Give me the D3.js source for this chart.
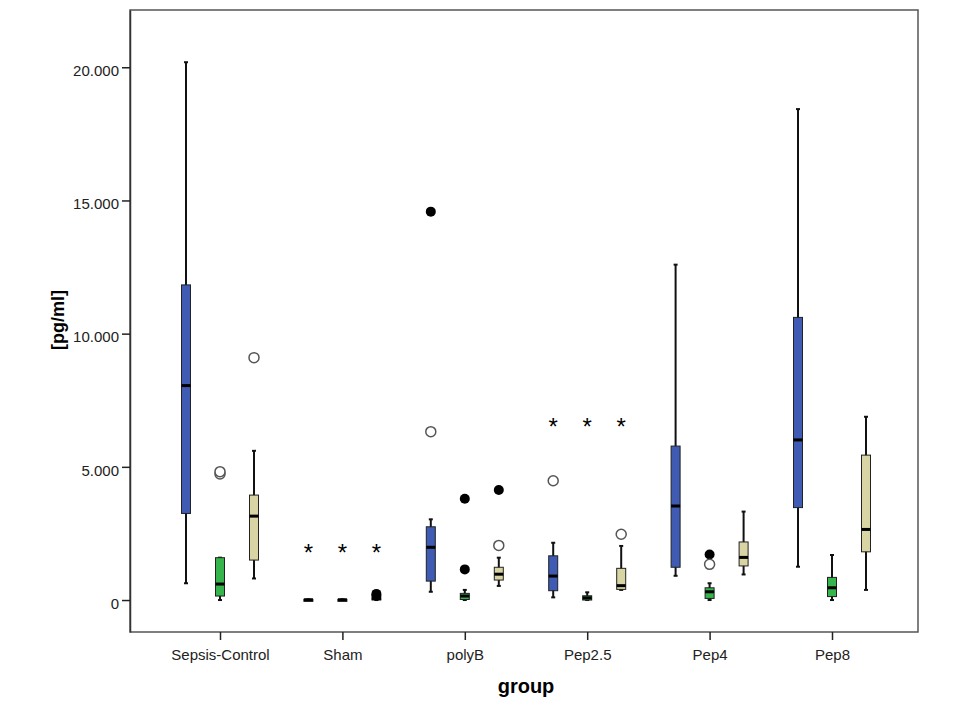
<!DOCTYPE html>
<html>
<head>
<meta charset="utf-8">
<script src="https://cdn.jsdelivr.net/npm/d3@7"></script>
<style>
  body { margin: 0; background: #fff; }
  text { font-family: Arial, "Liberation Sans", sans-serif; }
</style>
</head>
<body>
<div id="canvas"></div>
<script>
const width = 960;
const height = 720;

// categories on the x axis
const groups = ['Sepsis-Control', 'Sham', 'polyB', 'Pep2.5', 'Pep4', 'Pep8'];
const series = ['A', 'B', 'C'];
const colors = ['#3f5bb3', '#35b54b', '#d9d4a3'];

// [whisker low, Q1, median, Q3, whisker high] for each group
const boxA = [
  [630, 3250, 8050, 11830, 20190],
  [0, 0, 10, 25, 25],
  [310, 710, 1980, 2750, 3030],
  [100, 350, 900, 1660, 2150],
  [910, 1230, 3530, 5780, 12590],
  [1250, 3470, 6010, 10610, 18430]
];
const boxB = [
  [0, 150, 600, 1590, 1590],
  [0, 0, 10, 25, 25],
  [0, 20, 150, 250, 380],
  [0, 0, 80, 160, 290],
  [0, 60, 310, 460, 630],
  [0, 130, 460, 850, 1690]
];
const boxC = [
  [810, 1500, 3150, 3940, 5600],
  [0, 20, 50, 80, 110],
  [530, 750, 970, 1230, 1590],
  [380, 400, 540, 1190, 2030],
  [960, 1280, 1600, 2180, 3320],
  [380, 1810, 2650, 5440, 6880]
];
const boxes = [boxA, boxB, boxC];

// outliers: group, series index, value, kind (o = open circle, f = filled, x = extreme)
const outliers = [
  ['Sepsis-Control', 1, 4730, 'o'],
  ['Sepsis-Control', 1, 4820, 'o'],
  ['Sepsis-Control', 2, 9100, 'o'],
  ['Sham', 0, 1940, 'x'],
  ['Sham', 1, 1940, 'x'],
  ['Sham', 2, 1940, 'x'],
  ['Sham', 2, 160, 'f'],
  ['Sham', 2, 230, 'f'],
  ['polyB', 0, 14580, 'f'],
  ['polyB', 0, 6320, 'o'],
  ['polyB', 1, 3800, 'f'],
  ['polyB', 1, 1150, 'f'],
  ['polyB', 2, 4130, 'f'],
  ['polyB', 2, 2050, 'o'],
  ['Pep2.5', 0, 6690, 'x'],
  ['Pep2.5', 1, 6690, 'x'],
  ['Pep2.5', 2, 6690, 'x'],
  ['Pep2.5', 0, 4480, 'o'],
  ['Pep2.5', 2, 2470, 'o'],
  ['Pep4', 1, 1710, 'f'],
  ['Pep4', 1, 1340, 'o']
];

const yTicks = [0, 5000, 10000, 15000, 20000];

const plot = { left: 130, top: 10, right: 918, bottom: 632 };

const svg = d3.select('#canvas').append('svg')
  .attr('width', width)
  .attr('height', height);

const xScale = d3.scalePoint().domain(groups).range([220, 832]);
const offset = d3.scalePoint().domain(d3.range(series.length)).range([-34, 34]);
const yScale = d3.scaleLinear().domain([-1200, 22150]).range([plot.bottom, plot.top]);

const locale = d3.formatLocale({ decimal: ',', thousands: '.', grouping: [3], currency: ['', ''] });
const fmt = locale.format(',d');

// frame
svg.append('rect')
  .attr('x', plot.left).attr('y', plot.top)
  .attr('width', plot.right - plot.left).attr('height', plot.bottom - plot.top)
  .attr('fill', 'none').attr('stroke', '#555').attr('stroke-width', 1.5);

const yAxis = svg.append('g')
  .attr('transform', `translate(${plot.left},0)`)
  .call(d3.axisLeft(yScale).tickValues(yTicks).tickFormat(fmt).tickSize(8).tickSizeOuter(0).tickPadding(3));
yAxis.select('.domain').attr('stroke', '#333').attr('stroke-width', 1.5);
yAxis.selectAll('.tick line').attr('stroke', '#222').attr('stroke-width', 1.5);
yAxis.selectAll('.tick text').attr('font-size', 15).attr('fill', '#222').attr('dy', '0.55em')
  .style('font-family', 'Arial, "Liberation Sans", sans-serif');

const xAxis = svg.append('g')
  .attr('transform', `translate(0,${plot.bottom})`)
  .call(d3.axisBottom(xScale).tickSize(8).tickSizeOuter(0).tickPadding(9));
xAxis.select('.domain').remove();
xAxis.selectAll('.tick line').attr('stroke', '#222').attr('stroke-width', 1.5);
xAxis.selectAll('.tick text').attr('font-size', 15).attr('fill', '#222')
  .style('font-family', 'Arial, "Liberation Sans", sans-serif');

// axis titles
svg.append('text')
  .attr('transform', 'translate(64,320) rotate(-90)')
  .attr('text-anchor', 'middle')
  .attr('font-size', 18).attr('font-weight', 'bold')
  .text('[pg/ml]');

svg.append('text')
  .attr('x', 526).attr('y', 693)
  .attr('text-anchor', 'middle')
  .attr('font-size', 20).attr('font-weight', 'bold')
  .text('group');

// boxes
const boxW = 9;
const capW = 4;
const boxData = [];
boxes.forEach((arr, s) => {
  arr.forEach((d, i) => boxData.push({ group: groups[i], s: s, lo: d[0], q1: d[1], med: d[2], q3: d[3], hi: d[4] }));
});

const g = svg.append('g');
const bx = g.selectAll('g.box').data(boxData).enter().append('g')
  .attr('transform', d => `translate(${xScale(d.group) + offset(d.s)},0)`);

bx.append('line')
  .attr('x1', 0).attr('x2', 0)
  .attr('y1', d => yScale(d.lo)).attr('y2', d => yScale(d.hi))
  .attr('stroke', '#111').attr('stroke-width', 2);
bx.append('line')
  .attr('x1', -capW / 2).attr('x2', capW / 2)
  .attr('y1', d => yScale(d.lo)).attr('y2', d => yScale(d.lo))
  .attr('stroke', '#111').attr('stroke-width', 2);
bx.append('line')
  .attr('x1', -capW / 2).attr('x2', capW / 2)
  .attr('y1', d => yScale(d.hi)).attr('y2', d => yScale(d.hi))
  .attr('stroke', '#111').attr('stroke-width', 2);
bx.append('rect')
  .attr('x', -boxW / 2).attr('width', boxW)
  .attr('y', d => yScale(d.q3))
  .attr('height', d => Math.max(yScale(d.q1) - yScale(d.q3), 2))
  .attr('fill', d => colors[d.s])
  .attr('stroke', '#222').attr('stroke-width', 1);
bx.append('line')
  .attr('x1', -boxW / 2).attr('x2', boxW / 2)
  .attr('y1', d => yScale(d.med)).attr('y2', d => yScale(d.med))
  .attr('stroke', '#000').attr('stroke-width', 3);

// outliers
const pts = g.selectAll('g.out').data(outliers).enter().append('g')
  .attr('transform', d => `translate(${xScale(d[0]) + offset(d[1])},${yScale(d[2])})`);

pts.filter(d => d[3] === 'o').append('circle')
  .attr('r', 5).attr('fill', '#fff').attr('stroke', '#555').attr('stroke-width', 1.5);
pts.filter(d => d[3] === 'f').append('circle')
  .attr('r', 5).attr('fill', '#000');
pts.filter(d => d[3] === 'x').append('text')
  .attr('text-anchor', 'middle').attr('y', 13)
  .attr('font-size', 24).text('*');
</script>
</body>
</html>
